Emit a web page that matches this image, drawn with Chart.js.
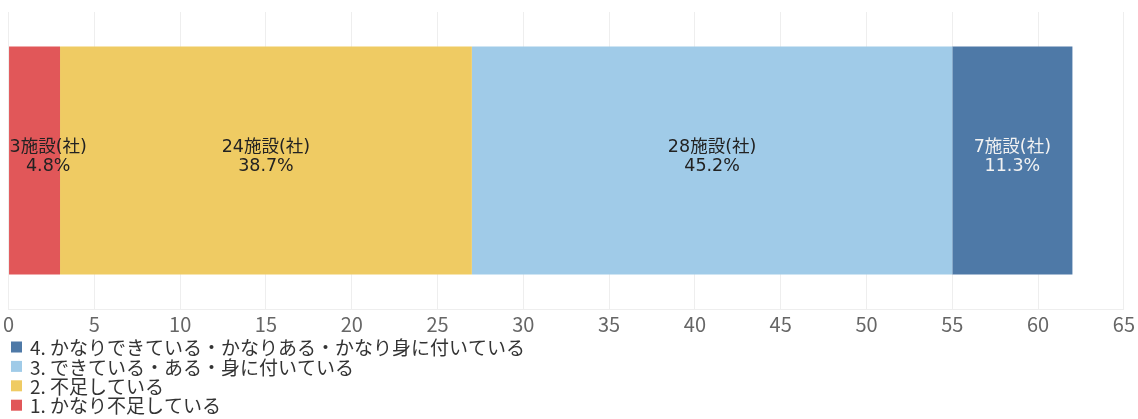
<!DOCTYPE html>
<html>
<head>
<meta charset="utf-8">
<script src="https://cdn.jsdelivr.net/npm/chart.js@4"></script>
<style>
html,body{margin:0;padding:0;background:#fff;}
#wrap{width:1138px;height:419px;position:relative;}
</style>
</head>
<body>
<div id="wrap"><canvas id="c" width="1138" height="419"></canvas></div>
<script>
const categories = ['回答'];
const seriesNames = [
  '1. かなり不足している',
  '2. 不足している',
  '3. できている・ある・身に付いている',
  '4. かなりできている・かなりある・かなり身に付いている'
];
const seriesValues = [[3], [24], [28], [7]];
const seriesColors = ['#E15759', '#EFCB63', '#A0CBE8', '#4E79A7'];
const labelColors = ['#222', '#222', '#222', '#F2F2F2'];
const unitLabel = '施設(社)';
const xMin = 0, xMax = 65, xStep = 5;

const FONT = "'Noto Sans CJK JP', 'Noto Sans', sans-serif";
const LABEL_FONT = "'DejaVu Sans', 'Noto Sans CJK JP', sans-serif";

const total = seriesValues.reduce((s, v) => s + v[0], 0);

const dataLabelPlugin = {
  id: 'dataLabels',
  afterDatasetsDraw(chart) {
    const ctx = chart.ctx;
    const area = chart.chartArea;
    ctx.save();
    ctx.font = '17.5px ' + LABEL_FONT;
    ctx.textAlign = 'center';
    ctx.textBaseline = 'middle';
    chart.data.datasets.forEach((ds, i) => {
      const meta = chart.getDatasetMeta(i);
      meta.data.forEach((bar, j) => {
        const p = bar.getProps(['x', 'base', 'y'], true);
        const v = ds.data[j];
        const lines = [v + unitLabel, (v / total * 100).toFixed(1) + '%'];
        const w = Math.max(...lines.map(l => ctx.measureText(l).width));
        let cx = (p.x + p.base) / 2;
        cx = Math.max(cx, area.left + w / 2 + 1);
        ctx.fillStyle = labelColors[i];
        ctx.fillText(lines[0], cx, p.y - 13);
        ctx.fillText(lines[1], cx, p.y + 6);
      });
    });
    ctx.restore();
  }
};

const legendPlugin = {
  id: 'listLegend',
  afterDraw(chart) {
    const ctx = chart.ctx;
    ctx.save();
    ctx.font = '19px ' + FONT;
    ctx.textAlign = 'left';
    ctx.textBaseline = 'middle';
    const n = chart.data.datasets.length;
    const y0 = 347, dy = 19.4;
    for (let k = 0; k < n; k++) {
      const i = n - 1 - k;
      const ds = chart.data.datasets[i];
      const y = y0 + k * dy;
      ctx.fillStyle = ds.backgroundColor;
      ctx.fillRect(11, y - 5.5, 11, 11);
      ctx.fillStyle = '#333';
      ctx.fillText(ds.label, 30, y + 1);
    }
    ctx.restore();
  }
};

new Chart(document.getElementById('c'), {
  type: 'bar',
  data: {
    labels: categories,
    datasets: seriesNames.map((name, i) => ({
      label: name,
      data: seriesValues[i],
      backgroundColor: seriesColors[i],
      borderWidth: 0,
      barPercentage: 0.767,
      categoryPercentage: 1
    }))
  },
  options: {
    responsive: false,
    animation: false,
    indexAxis: 'y',
    layout: { padding: { left: 8, right: 13, top: 12, bottom: 80 } },
    plugins: {
      legend: { display: false },
      tooltip: { enabled: false }
    },
    scales: {
      x: {
        stacked: true,
        min: xMin,
        max: xMax,
        ticks: { stepSize: xStep, color: '#666', font: { size: 20, family: FONT }, padding: 3, maxRotation: 0 },
        grid: { color: '#EEEEEE', drawTicks: false },
        border: { display: true, color: '#EEEEEE' }
      },
      y: {
        stacked: true,
        display: false
      }
    }
  },
  plugins: [dataLabelPlugin, legendPlugin]
});
</script>
</body>
</html>
